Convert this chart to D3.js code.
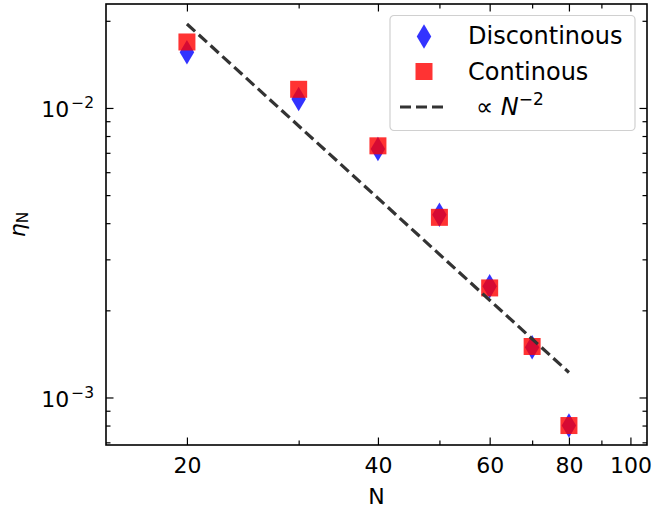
<!DOCTYPE html>
<html>
<head>
<meta charset="utf-8">
<script src="https://cdn.jsdelivr.net/npm/d3@7"></script>
<style>
  body { margin: 0; background: #fff; }
  svg { display: block; font-family: "DejaVu Sans", sans-serif; }
</style>
</head>
<body>
<div id="chart"></div>
<script>
// data
const sizes = [20, 30, 40, 50, 60, 70, 80];
const discontinous = [0.01556, 0.01073, 0.00721, 0.00428, 0.00242, 0.00149, 0.00080];
const continous = [0.0169, 0.0116, 0.0074, 0.00419, 0.00239, 0.00150, 0.00080];
// reference line ∝ N^-2, end points
const refN = [20, 80];
const refEta = [0.0195, 0.00122];

const xMajor = [20, 40, 60, 80, 100];
const xMinor = [30, 50, 70, 90];
const yMajor = [1e-3, 1e-2];
const yMinor = [7e-4, 8e-4, 9e-4, 2e-3, 3e-3, 4e-3, 5e-3, 6e-3, 7e-3, 8e-3, 9e-3, 2e-2];

const width = 656, height = 514;
const margin = { top: 4, right: 9, bottom: 69, left: 106 };
const innerW = width - margin.left - margin.right;
const innerH = height - margin.top - margin.bottom;

const svg = d3.select('#chart').append('svg')
  .attr('width', width)
  .attr('height', height);

const g = svg.append('g')
  .attr('transform', `translate(${margin.left},${margin.top})`);

const x = d3.scaleLog().domain([14.91, 106.2]).range([0, innerW]);
const y = d3.scaleLog().domain([6.853e-4, 0.02286]).range([innerH, 0]);

const clipId = 'plotclip';
svg.append('defs').append('clipPath').attr('id', clipId)
  .append('rect').attr('width', innerW).attr('height', innerH);

// axes, ticks pointing inward on all four sides
const majorLen = 7.5, minorLen = 4.5;
function styleAxis(sel) {
  sel.select('.domain').remove();
  sel.selectAll('line').attr('stroke', '#000').attr('stroke-width', 1.2);
}

g.append('g').attr('transform', `translate(0,${innerH})`)
  .call(d3.axisBottom(x).tickValues(xMajor).tickSize(-majorLen).tickPadding(12).tickFormat(d3.format('d')))
  .call(styleAxis)
  .call(s => s.selectAll('text').attr('font-size', 22).attr('font-family', 'DejaVu Sans').attr('fill', '#000'));
g.append('g').attr('transform', `translate(0,${innerH})`)
  .call(d3.axisBottom(x).tickValues(xMinor).tickSize(-minorLen).tickFormat(''))
  .call(styleAxis);
g.append('g')
  .call(d3.axisTop(x).tickValues(xMajor).tickSize(-majorLen).tickFormat(''))
  .call(styleAxis);
g.append('g')
  .call(d3.axisTop(x).tickValues(xMinor).tickSize(-minorLen).tickFormat(''))
  .call(styleAxis);

const yAx = g.append('g')
  .call(d3.axisLeft(y).tickValues(yMajor).tickSize(-majorLen).tickFormat(''))
  .call(styleAxis);
g.append('g')
  .call(d3.axisLeft(y).tickValues(yMinor).tickSize(-minorLen).tickFormat(''))
  .call(styleAxis);
g.append('g').attr('transform', `translate(${innerW},0)`)
  .call(d3.axisRight(y).tickValues(yMajor).tickSize(-majorLen).tickFormat(''))
  .call(styleAxis);
g.append('g').attr('transform', `translate(${innerW},0)`)
  .call(d3.axisRight(y).tickValues(yMinor).tickSize(-minorLen).tickFormat(''))
  .call(styleAxis);

// y tick labels as 10^k
yAx.selectAll('.tick').each(function(d) {
  const t = d3.select(this).select('text')
    .attr('x', -12).attr('dy', null).attr('y', 9)
    .attr('font-size', 22).attr('font-family', 'DejaVu Sans').attr('fill', '#000')
    .attr('text-anchor', 'end').text(null);
  t.append('tspan').text('10');
  t.append('tspan').attr('font-size', 15.5).attr('dx', 2).attr('dy', -9)
    .text('\u2212' + Math.round(-Math.log10(d)));
});

// frame
g.append('rect')
  .attr('width', innerW).attr('height', innerH)
  .attr('fill', 'none').attr('stroke', '#000').attr('stroke-width', 1.6);

const plot = g.append('g').attr('clip-path', `url(#${clipId})`);

const dW = 14.5, dH = 24.5, sq = 17;
const diamond = (cx, cy) => `M${cx},${cy - dH / 2}L${cx + dW / 2},${cy}L${cx},${cy + dH / 2}L${cx - dW / 2},${cy}Z`;

plot.selectAll('path.disc')
  .data(sizes)
  .enter()
  .append('path')
  .attr('class', 'disc')
  .attr('d', (d, i) => diamond(x(d), y(discontinous[i])))
  .attr('fill', 'rgba(0,0,255,0.8)');

plot.selectAll('rect.cont')
  .data(sizes)
  .enter()
  .append('rect')
  .attr('class', 'cont')
  .attr('x', d => x(d) - sq / 2)
  .attr('y', (d, i) => y(continous[i]) - sq / 2)
  .attr('width', sq).attr('height', sq)
  .attr('fill', 'rgba(255,0,0,0.8)');

const line = d3.line()
  .x(d => x(d))
  .y((d, i) => y(refEta[i]));

plot.append('path')
  .datum(refN)
  .attr('fill', 'none')
  .attr('stroke', '#333')
  .attr('stroke-width', 3.2)
  .attr('stroke-dasharray', '11,5')
  .attr('d', line);

// axis labels
svg.append('text')
  .attr('x', margin.left + innerW / 2).attr('y', 504)
  .attr('text-anchor', 'middle').attr('font-size', 22)
  .text('N');

const yl = svg.append('text')
  .attr('transform', `translate(25,${margin.top + innerH / 2}) rotate(-90)`)
  .attr('text-anchor', 'middle').attr('font-size', 22);
yl.append('tspan').attr('font-style', 'italic').text('\u03b7');
yl.append('tspan').attr('font-size', 15.5).attr('dy', 3).text('N');

// legend
const lg = svg.append('g').attr('transform', 'translate(390,15.5)');
lg.append('rect')
  .attr('width', 245).attr('height', 115).attr('rx', 4)
  .attr('fill', 'rgba(255,255,255,0.8)')
  .attr('stroke', '#d0d0d0').attr('stroke-width', 1.2);

const hx = 34;
lg.append('path').attr('d', diamond(hx, 21)).attr('fill', 'rgba(0,0,255,0.8)');
lg.append('rect').attr('x', hx - sq / 2).attr('y', 56 - sq / 2)
  .attr('width', sq).attr('height', sq).attr('fill', 'rgba(255,0,0,0.8)');
lg.append('line').attr('x1', 10).attr('x2', 58).attr('y1', 91.5).attr('y2', 91.5)
  .attr('stroke', '#333').attr('stroke-width', 3.2).attr('stroke-dasharray', '11,5');

lg.append('text').attr('x', 78).attr('y', 28.5).attr('font-size', 24).text('Discontinous');
lg.append('text').attr('x', 78).attr('y', 64).attr('font-size', 24).text('Continous');
const lt = lg.append('text').attr('x', 86).attr('y', 99.5).attr('font-size', 24);
lt.append('tspan').text('\u221d ');
lt.append('tspan').attr('font-style', 'italic').text('N');
lt.append('tspan').attr('font-size', 17).attr('dy', -10).text('\u22122');
</script>
</body>
</html>
